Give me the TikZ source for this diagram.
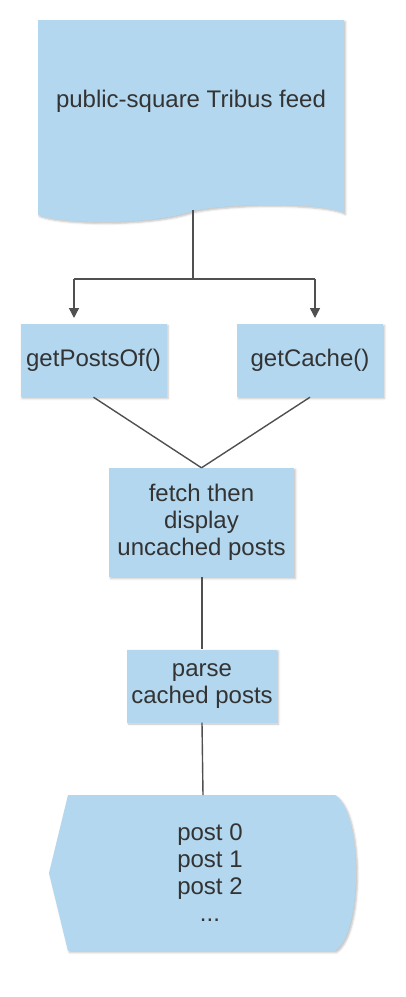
\documentclass[tikz,border=0pt]{standalone}
\usepackage{fontspec}
\setmainfont{Liberation Sans}
\usetikzlibrary{arrows.meta,shadows.blur}
\definecolor{boxblue}{HTML}{B3D7EE}
\definecolor{txtgray}{HTML}{333333}
\definecolor{linegray}{HTML}{505050}
\tikzset{
  myshadow/.style={blur shadow={shadow xshift=1.5pt, shadow yshift=-1.5pt, shadow blur steps=4, shadow opacity=25, shadow blur radius=2pt}},
  shapefill/.style={fill=boxblue, draw=none, myshadow},
  procbox/.style={shapefill, rectangle, inner sep=0pt, align=center, text=txtgray,
    font=\fontsize{24}{27}\selectfont},
  lbl/.style={inner sep=0pt, align=center, text=txtgray, font=\fontsize{24}{27}\selectfont},
  conn/.style={draw=linegray, line width=1.4pt},
  arr/.style={conn, -{Triangle[width=10pt,length=10pt]}}
}
\begin{document}
\begin{tikzpicture}[x=1pt,y=-1pt]
\useasboundingbox (0,0) rectangle (405,997);
% document shape
\fill[shapefill] (38,20) -- (344,20) -- (344,213)
  .. controls (320,202) and (230,203) .. (193,211)
  .. controls (150,226) and (60,224) .. (38,215) -- cycle;
\node[lbl] (feed) at (191,101) {public-square Tribus feed};
\coordinate (feedbot) at (193,210);
\coordinate (split) at (193,279);
\coordinate (splitL) at (74,279);
\coordinate (splitR) at (315,279);
\coordinate (tipL) at (74,318);
\coordinate (tipR) at (315,318);
% process boxes
\node[procbox, minimum width=146pt, minimum height=73pt] (posts) at (93.5,360.5) {getPostsOf()};
\node[procbox, minimum width=146pt, minimum height=73pt] (cache) at (310,360.5) {getCache()};
\node[procbox, minimum width=185pt, minimum height=109pt] (fetch) at (201.5,522.5) {fetch then\\display\\uncached posts};
\node[procbox, minimum width=150pt, minimum height=73pt] (parse) at (202,686) {parse\\cached posts};
% display shape
\fill[shapefill] (68,795) -- (335,795)
  .. controls (350,805) and (356,840) .. (356,873)
  .. controls (356,906) and (350,941) .. (335,951)
  -- (68,951) -- (49,873) -- cycle;
\node[lbl] (display) at (210,873) {post 0\\post 1\\post 2\\...};
\coordinate (disptop) at (203,795);
% connectors
\draw[conn] (feedbot) -- (split);
\draw[conn] (splitL) -- (splitR);
\draw[arr] (splitL) -- (tipL);
\draw[arr] (splitR) -- (tipR);
\draw[conn] (posts.south) -- (fetch.north);
\draw[conn] (cache.south) -- (fetch.north);
\draw[conn] (fetch.south -| parse.north) -- (parse.north);
\draw[conn] (parse.south) -- (disptop);
\end{tikzpicture}
\end{document}
